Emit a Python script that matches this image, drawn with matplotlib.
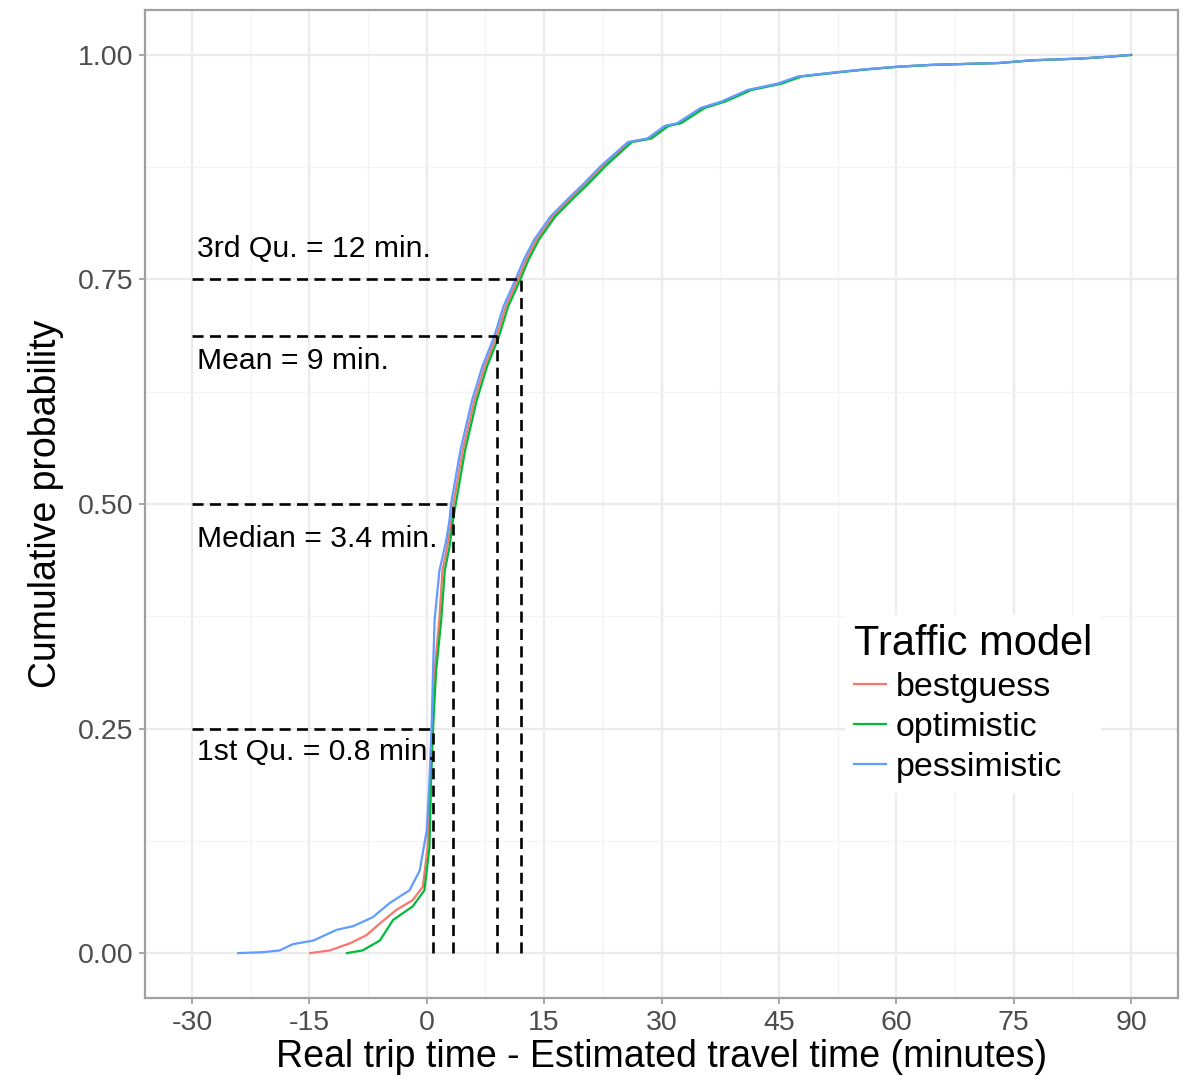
import numpy as np
import matplotlib
matplotlib.use("Agg")
import matplotlib.pyplot as plt
from matplotlib.ticker import MultipleLocator, FixedLocator

# ---------------------------------------------------------
# data (ECDF of trip time error)
# ---------------------------------------------------------
best_x = [-14.9, -12.4, -9.8, -7.7, -6.0, -3.9, -1.8, -0.5, 0.1, 0.45,
          0.8, 1.0, 1.6, 2.0, 2.6, 3.15, 3.4, 4.6, 6.1, 7.4,
          8.9, 10.1, 11.6, 12.7, 14.0, 16.1, 18.6, 20.4, 22.5, 25.9,
          28.4, 30.6, 32.2, 35.2, 37.8, 41.2, 45.0, 47.6, 52.7, 56.1,
          60.3, 64.6, 68.8, 73.1, 77.3, 83.6, 87.1, 90.0]
best_y = [0, 0.003, 0.011, 0.020, 0.033, 0.048, 0.059, 0.074, 0.118, 0.193,
          0.259, 0.315, 0.371, 0.426, 0.452, 0.482, 0.50, 0.560, 0.616, 0.653,
          0.686, 0.720, 0.749, 0.772, 0.794, 0.820, 0.842, 0.857, 0.876, 0.903,
          0.907, 0.921, 0.924, 0.941, 0.948, 0.961, 0.968, 0.976, 0.981, 0.984,
          0.987, 0.989, 0.990, 0.991, 0.994, 0.996, 0.998, 1.0]

opt_x = [-10.2, -8.2, -6.0, -4.3, -1.8, -0.3, 0.35, 0.55, 0.85, 1.2,
         1.85, 2.3, 2.9, 3.35, 3.7, 4.9, 6.4, 7.7, 9.2, 10.4,
         11.9, 13.0, 14.3, 16.4, 18.9, 20.7, 22.8, 26.2, 28.7, 30.9,
         32.5, 35.5, 38.1, 41.5, 45.3, 47.9, 53.0, 56.4, 60.5, 64.8,
         69.0, 73.2, 77.4, 83.7, 87.2, 90.0]
opt_y = [0, 0.003, 0.014, 0.037, 0.052, 0.070, 0.118, 0.193, 0.259, 0.315,
         0.371, 0.426, 0.452, 0.482, 0.50, 0.560, 0.616, 0.653, 0.686, 0.720,
         0.749, 0.772, 0.794, 0.820, 0.842, 0.857, 0.876, 0.903, 0.907, 0.921,
         0.924, 0.941, 0.948, 0.961, 0.968, 0.976, 0.981, 0.984, 0.987, 0.989,
         0.990, 0.991, 0.994, 0.996, 0.998, 1.0]

pess_x = [-24.1, -21.0, -18.8, -17.1, -14.5, -11.5, -9.4, -6.9, -4.7, -2.2,
          -0.9, 0.0, 0.35, 0.64, 0.8, 1.0, 1.62, 2.5, 2.9, 3.1,
          4.3, 5.8, 7.1, 8.6, 9.8, 11.3, 12.4, 13.7, 15.8, 18.3,
          20.1, 22.2, 25.7, 28.2, 30.4, 32.0, 35.0, 37.6, 41.0, 44.8,
          47.4, 52.5, 55.9, 60.1, 64.4, 68.6, 72.9, 77.1, 83.4, 86.9, 89.8]
pess_y = [0, 0.001, 0.003, 0.010, 0.014, 0.026, 0.030, 0.040, 0.056, 0.070,
          0.092, 0.137, 0.193, 0.259, 0.315, 0.371, 0.426, 0.460, 0.482, 0.50,
          0.560, 0.616, 0.653, 0.686, 0.720, 0.749, 0.772, 0.794, 0.820, 0.842,
          0.857, 0.876, 0.903, 0.907, 0.921, 0.924, 0.941, 0.948, 0.961, 0.968,
          0.976, 0.981, 0.984, 0.987, 0.989, 0.990, 0.991, 0.994, 0.996, 0.998, 1.0]

models = ["bestguess", "optimistic", "pessimistic"]
colors = ["#F8766D", "#00BA38", "#619CFF"]

# summary statistics (x in minutes, y = cumulative probability)
stat_x = [0.8, 3.4, 9.0, 12.0]
stat_y = [0.25, 0.50, 0.687, 0.75]
stat_labels = ["1st Qu. = 0.8 min.", "Median = 3.4 min.",
               "Mean = 9 min.", "3rd Qu. = 12 min."]
label_y = [0.215, 0.452, 0.650, 0.7755]

x_ticks = [-30, -15, 0, 15, 30, 45, 60, 75, 90]
y_ticks = [0.00, 0.25, 0.50, 0.75, 1.00]

# ---------------------------------------------------------
# figure
# ---------------------------------------------------------
plt.rcParams["font.family"] = ["Liberation Sans", "DejaVu Sans"]

fig = plt.figure(figsize=(11.86, 10.8), dpi=100)
ax = fig.add_axes([0.1223, 0.0759, 0.871, 0.9148])

GRID = "#ebebeb"
BORDER = "#a0a0a0"

ax.set_xlim(-36, 96)
ax.set_ylim(-0.05, 1.05)
ax.xaxis.set_major_locator(FixedLocator(x_ticks))
ax.yaxis.set_major_locator(FixedLocator(y_ticks))
ax.xaxis.set_minor_locator(MultipleLocator(7.5))
ax.yaxis.set_minor_locator(FixedLocator([0.125, 0.375, 0.625, 0.875]))
ax.grid(which="major", color=GRID, linewidth=1.6, zorder=0)
ax.grid(which="minor", color="#f3f3f3", linewidth=0.9, zorder=0)
ax.set_axisbelow(True)

for s in ax.spines.values():
    s.set_color(BORDER)
    s.set_linewidth(1.6)

ax.tick_params(which="major", direction="out", length=4.5, width=1.3,
               color=BORDER, labelsize=20.5, labelcolor="#4d4d4d", pad=4)
ax.tick_params(which="minor", length=0)
ax.set_xticklabels([str(v) for v in x_ticks])
ax.set_yticklabels([f"{v:.2f}" for v in y_ticks])

series = [(best_x, best_y), (opt_x, opt_y), (pess_x, pess_y)]
for (xs, ys), name, col in zip(series, models, colors):
    ax.plot(xs, ys, color=col, linewidth=1.6, label=name, zorder=3)

# dashed guide lines for quantiles and mean
for sx, sy in zip(stat_x, stat_y):
    ax.plot([-30, sx], [sy, sy], color="black", linewidth=1.9,
            linestyle=(0, (4.2, 2.4)), zorder=4)
    ax.plot([sx, sx], [0, sy], color="black", linewidth=1.9,
            linestyle=(0, (4.2, 2.4)), zorder=4)

for txt, ty in zip(stat_labels, label_y):
    ax.text(-29.4, ty, txt, fontsize=21.7, color="black",
            ha="left", va="baseline", zorder=5)

ax.set_xlabel("Real trip time - Estimated travel time (minutes)",
              fontsize=27, labelpad=2)
ax.set_ylabel("Cumulative probability", fontsize=27, labelpad=10)

leg = ax.legend(title="Traffic model", loc="upper left",
                bbox_to_anchor=(828 / 1186, 1 - 598 / 1080),
                bbox_transform=fig.transFigure,
                fontsize=24.5, title_fontsize=30, frameon=True,
                handlelength=0.95, handletextpad=0.3, labelspacing=0.26,
                borderpad=0.25, alignment="left", fancybox=False)
leg.get_frame().set_facecolor("white")
leg.get_frame().set_edgecolor("white")
leg.get_frame().set_alpha(1.0)
leg.set_zorder(6)

fig.savefig("out.png", dpi=100, facecolor="white")
